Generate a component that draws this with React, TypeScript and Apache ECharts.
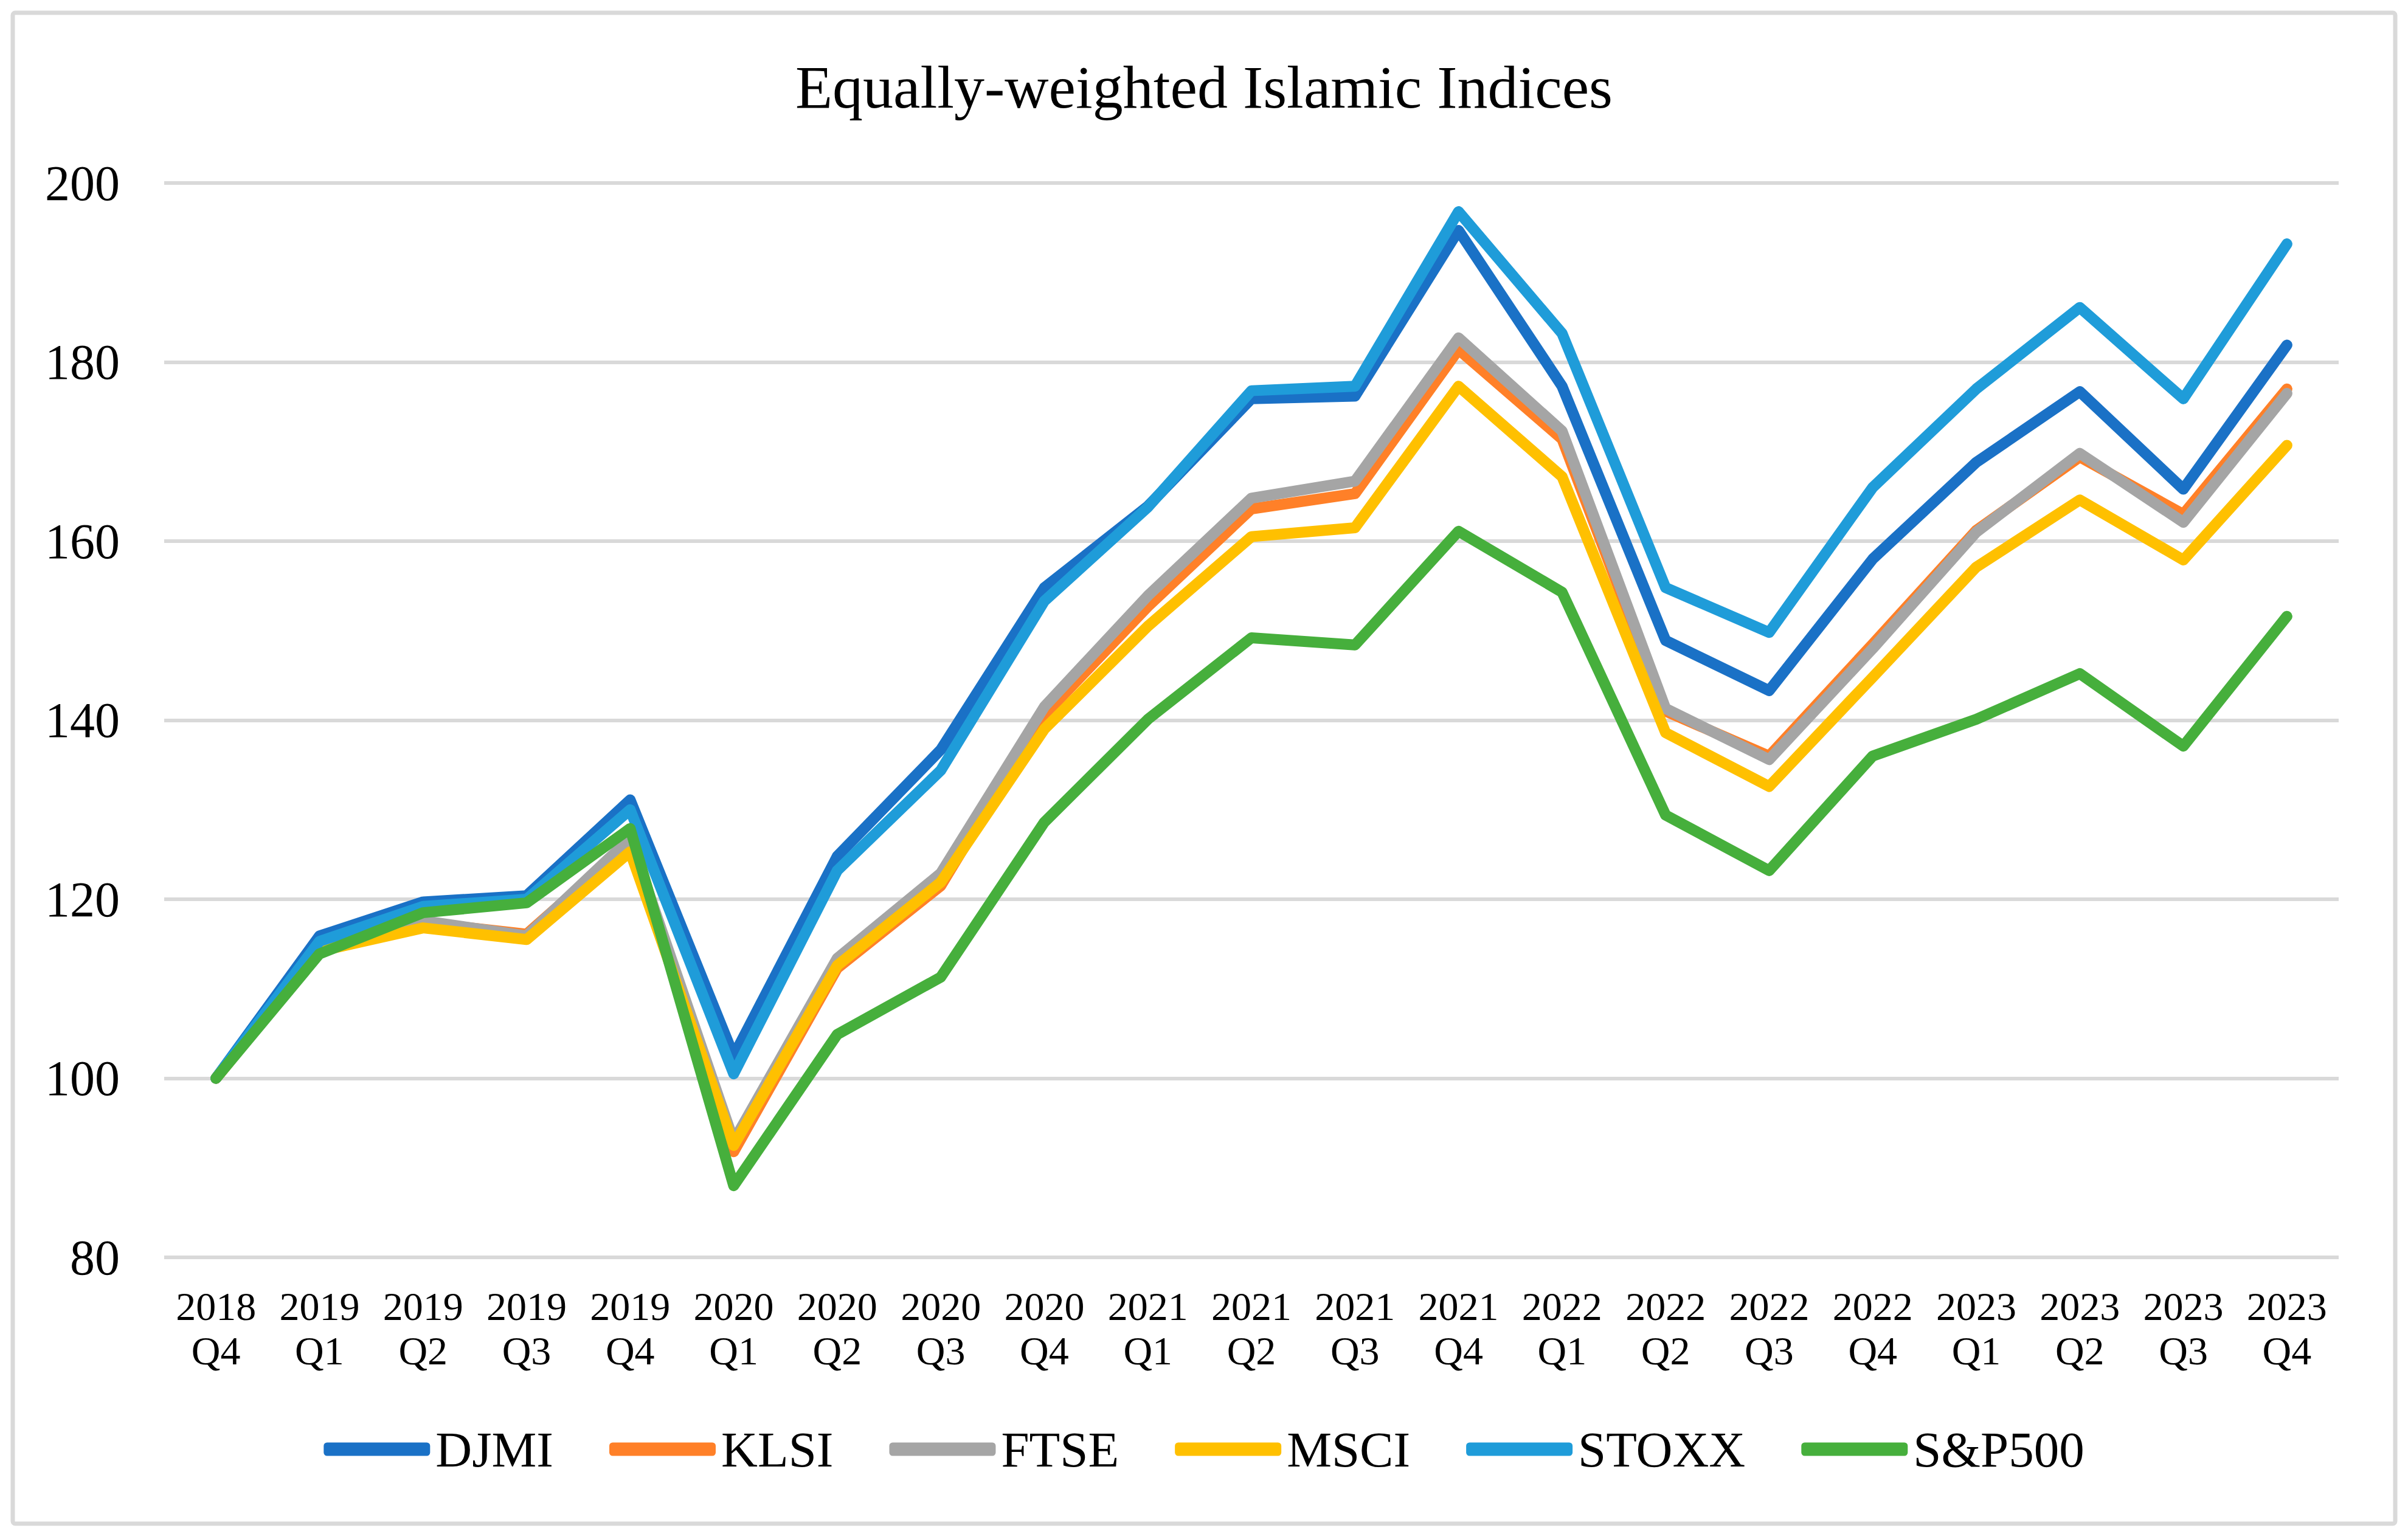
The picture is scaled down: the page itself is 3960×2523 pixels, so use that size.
import React, { useEffect, useRef } from "react";
import * as echarts from "echarts";

const years = ["2018","2019","2019","2019","2019","2020","2020","2020","2020","2021","2021","2021","2021","2022","2022","2022","2022","2023","2023","2023","2023"];
const quarters = ["Q4","Q1","Q2","Q3","Q4","Q1","Q2","Q3","Q4","Q1","Q2","Q3","Q4","Q1","Q2","Q3","Q4","Q1","Q2","Q3","Q4"];

const seriesNames = ["DJMI", "KLSI", "FTSE", "MSCI", "STOXX", "S&P500"];
const seriesColors = ["#1A71C6", "#FF8028", "#A5A5A5", "#FFC000", "#1F9CD9", "#46AF3C"];

const djmi = [100, 115.9, 119.7, 120.4, 131.1, 102.5, 124.8, 136.7, 154.8, 163.9, 175.9, 176.2, 194.7, 177.3, 148.9, 143.3, 158.0, 168.8, 176.7, 165.8, 181.9];
const klsi = [100, 114.3, 117.4, 116.1, 126.3, 91.8, 112.3, 121.5, 140.6, 152.7, 163.6, 165.3, 181.4, 171.4, 141.0, 136.0, 148.5, 161.2, 169.4, 163.0, 177.0];
const ftse = [100, 114.5, 117.6, 115.9, 126.8, 93.0, 113.4, 122.9, 141.5, 153.9, 164.8, 166.7, 182.7, 172.3, 141.3, 135.6, 148.0, 161.0, 169.8, 162.1, 176.5];
const msci = [100, 114.2, 116.8, 115.5, 125.3, 92.5, 112.6, 121.9, 139.0, 150.5, 160.5, 161.5, 177.3, 167.2, 138.6, 132.6, 144.8, 157.1, 164.6, 157.9, 170.7];
const stoxx = [100, 115.3, 119.2, 120.0, 130.0, 100.5, 123.2, 134.4, 153.3, 163.8, 176.8, 177.3, 196.8, 183.2, 154.8, 149.8, 166.0, 177.0, 186.1, 175.9, 193.2];
const sp500 = [100, 113.9, 118.5, 119.6, 127.9, 88.0, 104.9, 111.3, 128.6, 140.1, 149.2, 148.4, 161.1, 154.3, 129.4, 123.2, 136.0, 140.1, 145.2, 137.1, 151.6];

const yTicks = { min: 80, max: 200, interval: 20 };
const titleText = "Equally-weighted Islamic Indices";

const FONT = "'Liberation Serif', 'Times New Roman', serif";

export default function App() {
  const ref = useRef<HTMLDivElement>(null);
  useEffect(() => {
    if (!ref.current) return;
    const chart = echarts.init(ref.current, undefined, { renderer: "svg" });
    const categories = years.map((y, i) => y + "\n" + quarters[i]);
    const allData = [djmi, klsi, ftse, msci, stoxx, sp500];
    chart.setOption({
      animation: false,
      backgroundColor: "#ffffff",
      title: {
        text: titleText,
        left: "center",
        top: 88,
        textStyle: { fontFamily: FONT, fontSize: 100, fontWeight: "normal", color: "#000", lineHeight: 100 },
      },
      graphic: [
        {
          type: "rect",
          shape: { x: 21, y: 21, width: 3918, height: 2485, r: 4 },
          style: { fill: "none", stroke: "#D9D9D9", lineWidth: 7 },
          silent: true,
        },
      ],
      grid: { left: 270, right: 114, top: 301, bottom: 455, containLabel: false },
      legend: {
        left: "center",
        top: 2337,
        icon: "roundRect",
        itemWidth: 175,
        itemHeight: 22,
        itemGap: 92,
        textStyle: { fontFamily: FONT, fontSize: 83, color: "#000", padding: [0, 0, 0, 4] },
        data: seriesNames,
      },
      xAxis: {
        type: "category",
        data: categories,
        boundaryGap: true,
        axisLine: { show: false },
        axisTick: { show: false },
        axisLabel: {
          interval: 0,
          margin: 44,
          fontFamily: FONT,
          fontSize: 66,
          lineHeight: 73,
          color: "#000",
        },
        splitLine: { show: false },
      },
      yAxis: {
        type: "value",
        min: yTicks.min,
        max: yTicks.max,
        interval: yTicks.interval,
        axisLine: { show: false },
        axisTick: { show: false },
        axisLabel: { margin: 73, fontFamily: FONT, fontSize: 82, color: "#000" },
        splitLine: { show: true, lineStyle: { color: "#D9D9D9", width: 6 } },
      },
      series: seriesNames.map((name, i) => ({
        name,
        type: "line",
        data: allData[i],
        symbol: "none",
        showSymbol: false,
        color: seriesColors[i],
        lineStyle: { color: seriesColors[i], width: 18, cap: "round", join: "round" },
        itemStyle: { color: seriesColors[i] },
        emphasis: { disabled: true },
      })),
    });
    return () => chart.dispose();
  }, []);
  return (
    <div
      ref={ref}
      style={{ position: "absolute", left: 0, top: 0, width: 3960, height: 2523, background: "#fff" }}
    />
  );
}
